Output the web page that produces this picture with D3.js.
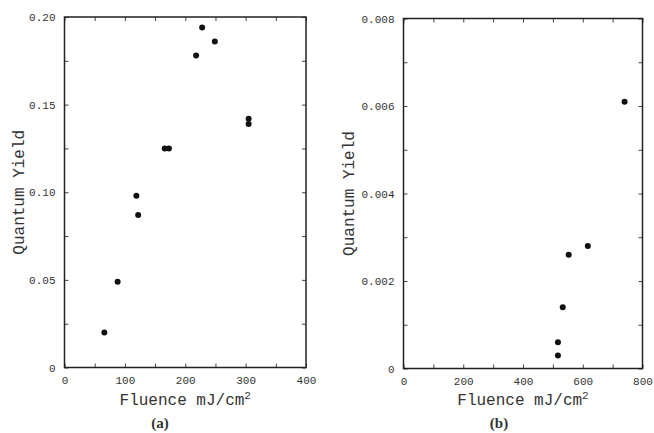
<!DOCTYPE html>
<html>
<head>
<meta charset="utf-8">
<script src="https://cdn.jsdelivr.net/npm/d3@7"></script>
<style>
  body { margin: 0; background: #fff; }
  svg text { fill: #333; }
</style>
</head>
<body>
<svg id="chart" width="654" height="433"></svg>
<script>
// panel (a)
const fluenceA = [66, 88, 119, 122, 166, 173, 218, 228, 249, 305, 305];
const yieldA = [0.020, 0.049, 0.098, 0.087, 0.125, 0.125, 0.178, 0.194, 0.186, 0.142, 0.139];
const xTicksA = [0, 100, 200, 300, 400];
const yTicksA = [0, 0.05, 0.10, 0.15, 0.20];

// panel (b)
const fluenceB = [517, 517, 533, 553, 617, 740];
const yieldB = [0.0003, 0.0006, 0.0014, 0.0026, 0.0028, 0.0061];
const xTicksB = [0, 200, 400, 600, 800];
const yTicksB = [0, 0.002, 0.004, 0.006, 0.008];

const svg = d3.select("#chart");
const font = "'Liberation Mono', 'DejaVu Sans Mono', monospace";

function drawPanel(opt) {
  const { left, right, top, bottom } = opt.box;
  const x = d3.scaleLinear().domain(opt.xDomain).range([left, right]);
  const y = d3.scaleLinear().domain(opt.yDomain).range([bottom, top]);
  const g = svg.append("g");

  const xAll = d3.range(opt.xDomain[0], opt.xDomain[1] + 1e-9, opt.xMinor);
  const yAll = d3.range(opt.yDomain[0], opt.yDomain[1] + 1e-12, opt.yMinor);
  const isMajor = (v, list) => list.some((t) => Math.abs(t - v) < 1e-9);

  const axes = [
    { ax: d3.axisBottom(x).tickValues(xAll), tr: `translate(0,${bottom})`, lab: true, list: opt.xTicks, fmt: opt.xFmt },
    { ax: d3.axisTop(x).tickValues(xAll), tr: `translate(0,${top})` },
    { ax: d3.axisLeft(y).tickValues(yAll), tr: `translate(${left},0)`, lab: true, list: opt.yTicks, fmt: opt.yFmt },
    { ax: d3.axisRight(y).tickValues(yAll), tr: `translate(${right},0)` },
  ];
  axes.forEach((a) => {
    a.ax
      .tickSizeInner(-4)
      .tickSizeOuter(0)
      .tickPadding(9)
      .tickFormat((d) => (a.lab && isMajor(d, a.list) ? a.fmt(d) : ""));
    const ag = g.append("g").attr("transform", a.tr).call(a.ax);
    ag.select(".domain").remove();
    ag.selectAll("line").attr("stroke", "#444").attr("stroke-width", 1);
    ag.selectAll("text")
      .attr("font-family", font)
      .attr("font-size", 11)
      .attr("fill", "#444");
  });

  g.append("rect")
    .attr("x", left)
    .attr("y", top)
    .attr("width", right - left)
    .attr("height", bottom - top)
    .attr("fill", "none")
    .attr("stroke", "#222")
    .attr("stroke-width", 1.5);

  g.append("g")
    .selectAll("circle")
    .data(opt.xs.map((v, i) => [v, opt.ys[i]]))
    .join("circle")
    .attr("cx", (d) => x(d[0]))
    .attr("cy", (d) => y(d[1]))
    .attr("r", 3)
    .attr("fill", "#111");

  const xt = g.append("text")
    .attr("x", (left + right) / 2)
    .attr("y", 405)
    .attr("text-anchor", "middle")
    .attr("font-family", font)
    .attr("font-size", 16);
  xt.append("tspan").text("Fluence mJ/cm");
  xt.append("tspan").attr("dy", -6).attr("font-size", 11).text("2");

  g.append("text")
    .attr("transform", `translate(${opt.yTitleX},${(top + bottom) / 2}) rotate(-90)`)
    .attr("text-anchor", "middle")
    .attr("font-family", font)
    .attr("font-size", 16)
    .text("Quantum Yield");

  g.append("text")
    .attr("x", opt.capX)
    .attr("y", 428)
    .attr("text-anchor", "middle")
    .attr("font-family", "'Liberation Serif', 'DejaVu Serif', serif")
    .attr("font-weight", "bold")
    .attr("font-size", 15)
    .text(opt.caption);
}

drawPanel({
  box: { left: 64.5, right: 306, top: 17, bottom: 367.5 },
  xDomain: [0, 400], yDomain: [0, 0.2],
  xMinor: 50, yMinor: 0.025,
  xTicks: xTicksA, yTicks: yTicksA,
  xFmt: (d) => String(d),
  yFmt: (d) => (d === 0 ? "0" : d.toFixed(2)),
  xs: fluenceA, ys: yieldA,
  yTitleX: 24, capX: 160, caption: "(a)",
});

drawPanel({
  box: { left: 403.5, right: 642.5, top: 18.5, bottom: 368.5 },
  xDomain: [0, 800], yDomain: [0, 0.008],
  xMinor: 100, yMinor: 0.001,
  xTicks: xTicksB, yTicks: yTicksB,
  xFmt: (d) => String(d),
  yFmt: (d) => (d === 0 ? "0" : d.toFixed(3)),
  xs: fluenceB, ys: yieldB,
  yTitleX: 354, capX: 499, caption: "(b)",
});
</script>
</body>
</html>
